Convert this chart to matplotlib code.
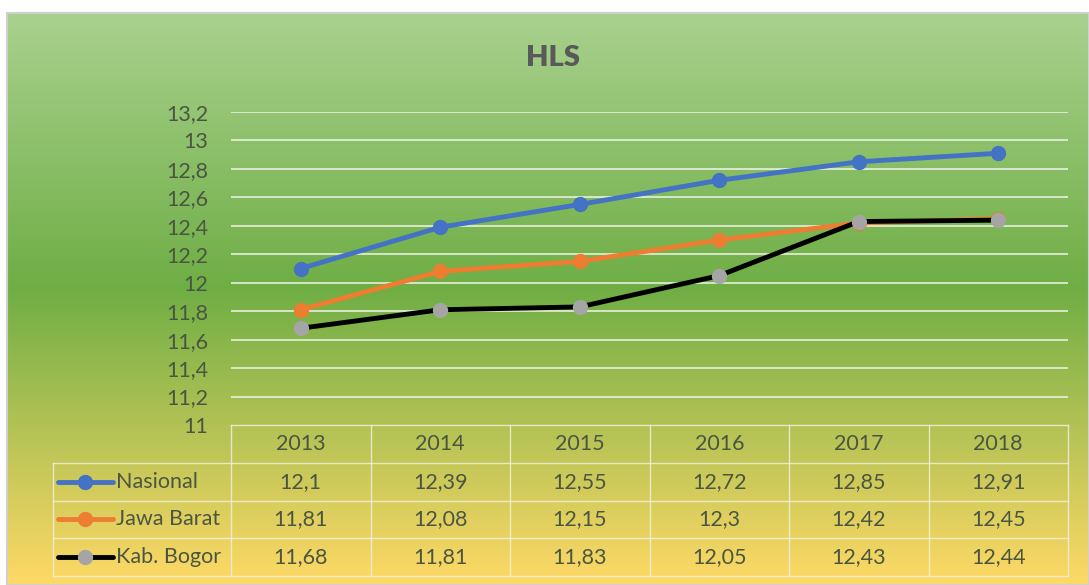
import numpy as np
import matplotlib
matplotlib.use("Agg")
import matplotlib.pyplot as plt
from matplotlib.colors import LinearSegmentedColormap

years = ["2013", "2014", "2015", "2016", "2017", "2018"]
nasional = [12.1, 12.39, 12.55, 12.72, 12.85, 12.91]
jawa_barat = [11.81, 12.08, 12.15, 12.3, 12.42, 12.45]
kab_bogor = [11.68, 11.81, 11.83, 12.05, 12.43, 12.44]
series_names = ["Nasional", "Jawa Barat", "Kab. Bogor"]
yticks = [11, 11.2, 11.4, 11.6, 11.8, 12, 12.2, 12.4, 12.6, 12.8, 13, 13.2]
title = "HLS"

plt.rcParams['font.family'] = ['Lato', 'DejaVu Sans']
TXT = "#4a5641"
FS = 15.5

W, H = 1089, 585
fig = plt.figure(figsize=(W / 100, H / 100), dpi=100)
fig.patch.set_facecolor("white")

# gradient background
bg = fig.add_axes([7 / W, 0, (W - 7) / W, (H - 13) / H])
cmap = LinearSegmentedColormap.from_list(
    "g", [(0, "#a9d18e"), (0.48, "#6fae45"), (1.0, "#ffd966")])
grad = np.linspace(0, 1, 256).reshape(-1, 1)
bg.imshow(grad, cmap=cmap, aspect="auto", extent=[0, 1, 0, 1], origin="upper")
bg.set_xticks([]); bg.set_yticks([])
for s in bg.spines.values():
    s.set_color("#d0d0d0"); s.set_linewidth(1.5)

# main plot
ax = fig.add_axes([231 / W, (H - 425) / H, (1068 - 231) / W, (425 - 112) / H])
ax.patch.set_alpha(0)
x = np.arange(len(years))
colors = ["#4472c4", "#ed7d31", "#000000"]
mcolors = ["#4472c4", "#ed7d31", "#a5a5a5"]
data = [nasional, jawa_barat, kab_bogor]
for vals, c, mc in zip(data, colors, mcolors):
    ax.plot(x, vals, color=c, lw=3.5, marker="o", ms=10, mfc=mc, mec=mc, zorder=3)
ax.set_xlim(-0.5, len(years) - 0.5)
ax.set_ylim(11, 13.2)
ax.set_yticks(yticks)
ax.set_yticklabels([f"{v:g}".replace(".", ",") for v in yticks], color=TXT, fontsize=FS)
ax.tick_params(axis="y", length=0, pad=16.5)
ax.set_xticks([])
for yv in yticks[1:]:
    ax.axhline(yv, color="#f0f4e8", lw=1.3, alpha=0.85, zorder=1)
for s in ax.spines.values():
    s.set_visible(False)

fig.text(553 / W, 1 - 58 / H, title, ha="center", va="center",
         fontsize=21, fontweight="heavy", color="#595959")

# data table
tx0 = -(231 - 53) / ((1068 - 231) / 6)
tab = fig.add_axes([53 / W, (H - 576) / H, (1068 - 53) / W, (576 - 425) / H])
tab.patch.set_alpha(0)
tab.set_xlim(tx0, len(years))
tab.set_ylim(4, 0)
tab.axis("off")
lc = "#f2f2e0"
tab.plot([0, len(years)], [0, 0], color=lc, lw=1, alpha=0.8, clip_on=False)
for r in range(1, 5):
    tab.plot([tx0, len(years)], [r, r], color=lc, lw=1, alpha=0.8, clip_on=False)
for c in range(len(years) + 1):
    tab.plot([c, c], [0, 4], color=lc, lw=1, alpha=0.8, clip_on=False)
tab.plot([tx0, tx0], [1, 4], color=lc, lw=1, alpha=0.8, clip_on=False)

for i, yr in enumerate(years):
    tab.text(i + 0.5, 0.5, yr, ha="center", va="center", fontsize=FS, color=TXT)
for r, (name, vals, c, mc) in enumerate(zip(series_names, data, colors, mcolors), start=1):
    for i, v in enumerate(vals):
        tab.text(i + 0.5, r + 0.5, f"{v:g}".replace(".", ","), ha="center",
                 va="center", fontsize=FS, color=TXT)
    k0 = tx0 + 5 / 139.5
    k1 = tx0 + 60 / 139.5
    tab.plot([k0, k1], [r + 0.5, r + 0.5], color=c, lw=3.5, solid_capstyle="round",
             clip_on=False)
    tab.plot([(k0 + k1) / 2], [r + 0.5], marker="o", ms=10, mfc=mc, mec=mc,
             clip_on=False)
    tab.text(k1 + 3 / 139.5, r + 0.5, name, ha="left", va="center",
             fontsize=FS, color=TXT)

fig.savefig("out.png", dpi=100)
